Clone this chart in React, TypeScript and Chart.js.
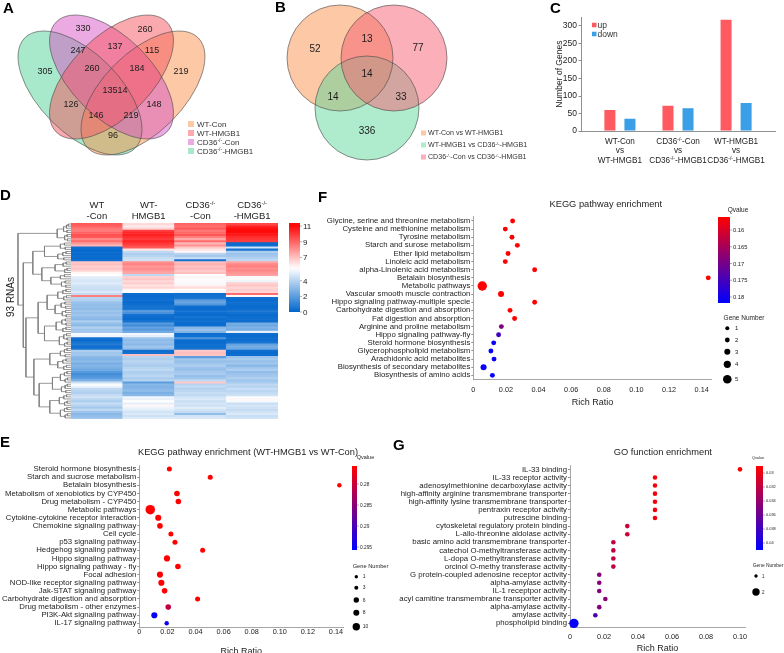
import React, { useEffect, useRef } from 'react';
import { Chart, registerables } from 'chart.js';

Chart.register(...registerables);

const FAM = '"Liberation Sans", Arial, Helvetica, sans-serif';
Chart.defaults.font.family = FAM;
const INK = '#1c1c1c';
Chart.defaults.color = INK;
const AXIS = '#8f8f8f';
const fnt = (s: number, w = 'normal') => `${w} ${s}px ${FAM}`;
const SUP = '\u207B/\u207B';
const KO = 'CD36' + SUP;

// ================= DATA =================
// A: four-set Venn
const vennASets = ['WT-Con', 'WT-HMGB1', `${KO}-Con`, `${KO}-HMGB1`];
const vennACounts = [305, 330, 260, 219, 247, 137, 115, 260, 184, 13514, 126, 148, 146, 219, 96];

// B: three-set Venn
const vennBSets = ['WT-Con vs WT-HMGB1', `WT-HMGB1 vs ${KO}-HMGB1`, `${KO}-Con vs ${KO}-HMGB1`];
const vennBCounts = [52, 13, 77, 14, 14, 33, 336];

// C: up / down genes
const cComparisons = [
  ['WT-Con', 'vs', 'WT-HMGB1'],
  [`${KO}-Con`, 'vs', `${KO}-HMGB1`],
  ['WT-HMGB1', 'vs', `${KO}-HMGB1`],
];
const cSeriesNames = ['up', 'down'];
const cUp = [60, 72, 318];
const cDown = [35, 65, 80];
const cYTicks = [0, 50, 100, 150, 200, 250, 300];

// D: heatmap (93 RNAs x 4 samples)
const dSamples = [['WT', '-Con'], ['WT-', 'HMGB1'], [KO, '-Con'], [KO, '-HMGB1']];
const dWtCon = [
  9.2, 9.0, 8.6, 8.4, 9.0, 9.4, 9.3, 8.2, 8.8, 7.8, 7.2,
  0.3, 0.2, 0.1, 0.2, 0.3, 0.2, 0.4,
  6.8, 7.0, 6.6, 6.9, 6.5,
  5.8, 5.6,
  5.0, 4.8, 4.7, 4.9, 4.6, 4.5,
  4.4, 4.8,
  4.3, 8.4,
  4.0, 3.9, 3.4, 3.2, 3.3, 3.1, 3.4, 3.3, 3.5, 3.2, 3.0, 3.8, 3.3, 3.1, 3.9, 3.4, 3.6,
  5.4, 5.2,
  0.4, 0.2, 0.5, 0.8, 0.3, 0.6,
  3.8, 3.5,
  3.6,
  3.0, 2.8, 3.1, 2.6, 2.9, 2.7, 2.4,
  1.9, 1.5, 1.7, 2.0,
  2.8,
  4.5,
  5.5, 5.2,
  4.2, 4.0, 3.9, 4.3,
  4.6, 4.1, 3.8, 4.4, 4.0, 3.6, 4.2,
  3.4, 3.0, 3.2, 3.5,
];
const dWtHmgb1 = [
  6.4, 6.0, 6.6,
  9.8, 10.3, 10.5, 10.2, 9.9, 10.4, 10.0, 9.6, 9.2,
  6.2,
  4.2, 3.8, 4.0, 4.4, 4.6,
  8.0, 8.3, 7.8, 8.1, 7.9, 7.6,
  4.2,
  6.6, 6.9, 6.4, 6.7, 6.2, 6.5,
  5.8, 5.6,
  0.3, 0.2, 0.3, 0.4, 0.2, 0.3, 0.5, 0.4, 1.8, 1.6, 0.4, 0.3, 0.2, 0.5, 1.9, 1.4, 2.2, 1.8, 2.5,
  5.3, 5.0,
  3.4, 3.1, 3.3, 3.0, 3.5, 3.2,
  0.3, 0.4,
  7.0,
  4.0, 3.8, 4.1, 3.9, 3.7, 4.0, 4.2, 3.8, 3.9, 4.1, 3.7, 4.0,
  2.0,
  3.0, 2.8, 2.9, 3.1, 2.7, 3.0,
  5.3, 5.1, 5.6, 5.0, 5.8, 5.2, 4.9,
  4.6, 4.8, 4.5, 4.9,
];
const dCdCon = [
  9.0, 8.7, 9.2, 8.5, 8.9, 9.3, 8.4, 7.5, 8.8, 7.2, 8.0,
  6.8, 6.2, 5.8,
  4.0, 3.6, 4.3,
  0.4,
  7.0, 7.3, 6.9, 7.2, 6.8, 7.0,
  5.6, 5.8, 5.5, 5.7, 5.4, 5.9,
  6.4,
  5.6, 5.3,
  0.3, 0.4, 0.5,
  2.0, 2.3, 1.8,
  0.3, 0.2, 0.4, 0.3, 0.2, 0.5, 0.3, 0.4, 0.2, 0.3,
  3.0, 3.3, 2.8,
  0.3, 0.4, 1.8, 0.3, 0.2, 0.4, 0.3, 0.5,
  6.8, 7.0, 6.9,
  2.0,
  3.6, 3.3, 3.5, 3.8, 3.4, 3.2, 3.6, 3.7, 3.3, 3.5,
  4.2,
  6.8,
  4.0, 4.3, 3.9, 4.1, 4.4, 4.2,
  4.6, 4.8, 4.4, 4.7, 4.5, 4.9, 4.6, 4.3,
  3.2,
  4.6, 4.8,
];
const dCdHmgb1 = [
  9.6, 10.4, 10.8, 11.0, 10.9, 10.6, 10.2, 10.0, 9.8,
  0.2, 0.3,
  4.6,
  0.5,
  3.8, 3.4, 3.6, 3.9, 4.2,
  7.6, 8.2, 8.4, 8.0, 8.3, 7.9, 7.7,
  5.4, 5.7, 5.2,
  6.6, 6.9, 6.5,
  6.7, 6.5,
  8.8,
  5.8,
  0.3, 0.2, 0.4, 0.3, 0.2, 0.3, 0.5, 0.4, 0.2, 0.3, 0.4, 0.3,
  2.6, 2.4, 2.8, 2.5,
  5.0,
  0.3, 0.2, 0.4, 0.3, 0.5,
  2.2, 2.6, 2.4,
  0.3, 0.2, 0.3,
  3.4, 3.7, 3.3, 3.6, 3.0, 3.5, 3.8, 3.2, 3.4, 3.6, 3.9, 3.5, 3.7,
  4.2, 4.0, 4.4, 4.1, 4.3, 4.5,
  5.5, 5.8, 5.4,
  4.4, 4.7, 4.5, 4.3, 4.6, 4.8, 4.4, 4.6,
];
const dScaleTicks = [11, 9, 7, 4, 2, 0];
const dRowsLabel = '93 RNAs';
// dendrogram: [height, left, right] or [height, leafCount]
const dTree = [1.0,
  [0.26, [0.14, 5], [0.12, 4]],
  [0.9,
    [0.72,
      [0.5, [0.2, 4], [0.25, 5]],
      [0.55, [0.3, [0.15, 3], [0.12, 3]], [0.38, [0.2, 3], [0.18, 4]]],
    ],
    [0.85,
      [0.62, [0.45, [0.25, 6], [0.3, 8]], [0.5, [0.28, 7], [0.22, 7]]],
      [0.7, [0.4, [0.2, 5], [0.25, 6]], [0.6, [0.35, [0.2, 6], [0.18, 5]], [0.4, [0.22, 6], [0.2, 6]]]],
    ],
  ],
];

// E: KEGG (WT-HMGB1 vs WT-Con)
const eTerms = ['Steroid hormone biosynthesis', 'Starch and sucrose metabolism', 'Betalain biosynthesis',
  'Metabolism of xenobiotics by CYP450', 'Drug metabolism - CYP450', 'Metabolic pathways',
  'Cytokine-cytokine receptor interaction', 'Chemokine signaling pathway', 'Cell cycle', 'p53 signaling pathway',
  'Hedgehog signaling pathway', 'Hippo signaling pathway', 'Hippo signaling pathway - fly', 'Focal adhesion',
  'NOD-like receptor signaling pathway', 'Jak-STAT signaling pathway', 'Carbohydrate digestion and absorption',
  'Drug metabolism - other enzymes', 'PI3K-Akt signaling pathway', 'IL-17 signaling pathway'];
const eRichRatio = [0.0214, 0.0505, 0.1424, 0.0268, 0.0278, 0.0078, 0.0135, 0.0147, 0.0225, 0.0254,
  0.0451, 0.0197, 0.0275, 0.0147, 0.0157, 0.018, 0.0415, 0.0206, 0.0107, 0.0195];
const eQvalue = [0.2757, 0.2757, 0.2757, 0.2757, 0.2757, 0.2757, 0.2757, 0.2757, 0.2757, 0.2757,
  0.2757, 0.2757, 0.2757, 0.2757, 0.2757, 0.2757, 0.2757, 0.2805, 0.2950, 0.2945];
const eGeneNumber = [2, 2, 1, 3, 3, 10, 4, 3, 2, 2, 2, 4, 3, 4, 4, 3, 2, 3, 4, 1];
const eQTicks = [0.28, 0.285, 0.29, 0.295];
const eGeneLegend = [1, 3, 6, 8, 10];

// F: KEGG pathway enrichment
const fTerms = ['Glycine, serine and threonine metabolism', 'Cysteine and methionine metabolism', 'Tyrosine metabolism',
  'Starch and surose metabolism', 'Ether lipid metabolism', 'Linoleic acid metabolism', 'alpha-Linolenic acid metabolism',
  'Betalain biosynthesis', 'Metabolic pathways', 'Vascular smooth muscle contraction', 'Hippo signaling pathway-multiple specie',
  'Carbohydrate digestion and absorption', 'Fat digestion and absorption', 'Arginine and proline metabolism',
  'Hippo signaling pathway-fly', 'Steroid hormone biosynthesis', 'Glycerophospholipid metabolism',
  'Arachidonic acid metabolites', 'Biosynthesis of secondary metabolites', 'Biosynthesis of amino acids'];
const fRichRatio = [0.0241, 0.0196, 0.0237, 0.027, 0.0213, 0.0196, 0.0376, 0.144, 0.0055, 0.017,
  0.0376, 0.0225, 0.0253, 0.0172, 0.0155, 0.0125, 0.0108, 0.0127, 0.0063, 0.0117];
const fQvalue = [0.1562, 0.1562, 0.1562, 0.1562, 0.1562, 0.1562, 0.1562, 0.1562, 0.1562, 0.1562,
  0.1562, 0.1562, 0.1562, 0.169, 0.1755, 0.181, 0.181, 0.181, 0.181, 0.181];
const fGeneNumber = [1, 1, 1, 1, 1, 1, 1, 1, 5, 2, 1, 1, 1, 1, 1, 1, 1, 1, 2, 1];
const fQTicks = [0.16, 0.165, 0.17, 0.175, 0.18];
const fGeneLegend = [1, 2, 3, 4, 5];

// G: GO function enrichment
const gTerms = ['IL-33 binding', 'IL-33 receptor activity', 'adenosylmethionine decarboxylase activity',
  'high-affinity arginine transmembrane transporter', 'high-affinity lysine transmembrane transporter',
  'pentraxin receptor activity', 'putrescine binding', 'cytoskeletal regulatory protein binding',
  'L-allo-threonine aldolase activity', 'basic amino acid transmembrane transporter',
  'catechol O-methyltransferase activity', 'L-dopa O-methyltransferase activity', 'orcinol O-methy transferase activity',
  'G protein-coupled adenosine receptor activity', 'alpha-amylase activity', 'IL-1 receptpor activity',
  'acyl camitine transmembrane transporter activity', 'alpha-amylase activity', 'amylase activity', 'phospholipid binding'];
const gRichRatio = [0.1, 0.05, 0.05, 0.05, 0.05, 0.05, 0.05, 0.0337, 0.0337, 0.0255, 0.0255, 0.0255, 0.0255,
  0.0172, 0.0172, 0.0172, 0.0208, 0.0172, 0.0149, 0.0023];
const gQvalue = [0.0292, 0.0295, 0.0295, 0.0295, 0.0295, 0.0295, 0.0295, 0.0313, 0.0313, 0.0318, 0.0318, 0.0318, 0.0318,
  0.0347, 0.0347, 0.0347, 0.0345, 0.0347, 0.0375, 0.0408];
const gGeneNumber = [1, 1, 1, 1, 1, 1, 1, 1, 1, 1, 1, 1, 1, 1, 1, 1, 1, 1, 1, 2];
const gQTicks = [0.03, 0.032, 0.034, 0.036, 0.038, 0.04];
const gGeneLegend = [1, 2];

// ================= STYLE / LAYOUT =================
type Box = { left: number; top: number; w: number; h: number };
const mix = (a: number[], b: number[], t: number) => a.map((v, i) => Math.round(v + (b[i] - v) * t));
const rgb = (c: number[]) => `rgb(${c[0]},${c[1]},${c[2]})`;
const HEAT_LOW = [0, 102, 204];
const HEAT_WHITE = [255, 255, 255];
const HEAT_HIGH = [255, 8, 8];
function heatColor(v: number) {
  const mid = 5.6, hi = 11;
  if (v <= mid) return rgb(mix(HEAT_LOW, HEAT_WHITE, Math.max(0, v) / mid));
  return rgb(mix(HEAT_WHITE, HEAT_HIGH, Math.min(1, (v - mid) / (hi - mid))));
}
function qColor(q: number, top: number, bot: number) {
  const t = Math.max(0, Math.min(1, (q - top) / (bot - top)));
  return `rgb(${Math.round(255 * (1 - t))},0,${Math.round(255 * t)})`;
}

// text with small raised "-/-" for the knockout superscript; (x, y) = anchor, y is the vertical middle
function drawRich(ctx: CanvasRenderingContext2D, s: string, x: number, y: number, size: number, align: string, color: string) {
  const parts = s.split(SUP);
  const segs: any[] = [];
  parts.forEach((p, i) => {
    if (p) segs.push({ t: p, sup: false });
    if (i < parts.length - 1) segs.push({ t: '-/-', sup: true });
  });
  const supSize = size * 0.62;
  let total = 0;
  for (const sg of segs) {
    ctx.font = fnt(sg.sup ? supSize : size);
    sg.w = ctx.measureText(sg.t).width;
    total += sg.w;
  }
  let cx = align === 'center' ? x - total / 2 : align === 'right' ? x - total : x;
  const base = y + size * 0.35;
  ctx.fillStyle = color;
  ctx.textAlign = 'left';
  ctx.textBaseline = 'alphabetic';
  for (const sg of segs) {
    ctx.font = fnt(sg.sup ? supSize : size);
    ctx.fillText(sg.t, cx, sg.sup ? base - size * 0.36 : base);
    cx += sg.w;
  }
}

function drawAnnos(ctx: CanvasRenderingContext2D, items: any[]) {
  for (const it of items) {
    ctx.save();
    if (it.k === 't') {
      ctx.translate(it.x, it.y);
      if (it.rot) ctx.rotate(it.rot);
      drawRich(ctx, it.s, 0, 0, it.size, it.align || 'left', it.color || INK);
    } else if (it.k === 'r') {
      ctx.fillStyle = it.color;
      ctx.fillRect(it.x, it.y, it.w, it.h);
    } else if (it.k === 'c') {
      ctx.fillStyle = it.color;
      ctx.beginPath();
      ctx.arc(it.x, it.y, it.r, 0, Math.PI * 2);
      ctx.fill();
    } else if (it.k === 'g') {
      const g = ctx.createLinearGradient(0, it.y, 0, it.y + it.h);
      for (const [o, c] of it.stops) g.addColorStop(o, c);
      ctx.fillStyle = g;
      ctx.fillRect(it.x, it.y, it.w, it.h);
    } else if (it.k === 'l') {
      ctx.strokeStyle = it.color;
      ctx.lineWidth = it.w;
      ctx.beginPath();
      ctx.moveTo(it.x1, it.y1);
      ctx.lineTo(it.x2, it.y2);
      ctx.stroke();
    }
    ctx.restore();
  }
}
// annotation items are given in page coordinates
const annoPlugin = (items: any[], box: Box) => ({
  id: 'anno',
  afterDraw(chart: any) {
    const ctx = chart.ctx;
    ctx.save();
    ctx.translate(-box.left, -box.top);
    drawAnnos(ctx, items);
    ctx.restore();
  },
});
// multi-line category labels placed at the x scale's tick pixels (page y for each line)
const xLabelPlugin = (labels: string[][], values: number[], lineYs: number[], size: number, box: Box) => ({
  id: 'xlabels',
  afterDraw(chart: any) {
    const ctx = chart.ctx;
    const sc = chart.scales.x;
    ctx.save();
    labels.forEach((lines, i) => {
      const px = sc.getPixelForValue(values[i]);
      lines.forEach((ln, j) => drawRich(ctx, ln, px, lineYs[j] - box.top, size, 'center', INK));
    });
    ctx.restore();
  },
});

function colorbar(o: any): any[] {
  const stops: any[] = [];
  for (let i = 0; i <= 30; i++) {
    const f = i / 30;
    stops.push([f, o.color(o.vTop + (o.vBot - o.vTop) * f)]);
  }
  const items: any[] = [{ k: 'g', x: o.x, y: o.y, w: o.w, h: o.h, stops }];
  for (const v of o.ticks) {
    const yy = o.y + ((v - o.vTop) / (o.vBot - o.vTop)) * o.h;
    items.push({ k: 'l', x1: o.x + o.w, y1: yy, x2: o.x + o.w + 2, y2: yy, color: '#777', w: 0.6 });
    items.push({ k: 't', x: o.x + o.w + 3, y: yy, s: o.fmt(v), size: o.size });
  }
  return items;
}
const qfmt = (v: number) => String(+v.toFixed(3));

// ---------- Venn ----------
const A_BOX: Box = { left: 0, top: 0, w: 262, h: 170 };
const A_SHAPES = [
  { cx: 80, cy: 93, rx: 78, ry: 40, rot: 45, fill: 'rgba(81,209,151,0.5)' },
  { cx: 143, cy: 93, rx: 78, ry: 40, rot: -45, fill: 'rgba(249,145,75,0.5)' },
  { cx: 111.5, cy: 77, rx: 78, ry: 40, rot: 45, fill: 'rgba(215,85,195,0.5)' },
  { cx: 111.5, cy: 77, rx: 78, ry: 40, rot: -45, fill: 'rgba(245,85,95,0.5)' },
];
const A_LABEL_POS = [[45, 72], [83, 29], [145, 30], [181, 72], [78, 51], [115, 47], [152, 51], [92, 69], [137, 69],
  [115, 91], [71, 105], [154, 105], [96, 116], [131, 116], [113, 136]];
const A_LEGEND_COLORS = ['rgb(252,200,165)', 'rgb(250,170,175)', 'rgb(235,170,225)', 'rgb(168,232,203)'];
const A_LEGEND_Y = [124, 133, 142, 151];

const B_BOX: Box = { left: 262, top: 0, w: 285, h: 170 };
const B_SHAPES = [
  { cx: 340, cy: 58, rx: 53, ry: 53, rot: 0, fill: 'rgba(249,145,75,0.5)' },
  { cx: 367, cy: 108, rx: 52, ry: 52, rot: 0, fill: 'rgba(95,215,155,0.5)' },
  { cx: 394, cy: 58, rx: 53, ry: 53, rot: 0, fill: 'rgba(245,95,115,0.5)' },
];
const B_LABEL_POS = [[315, 49], [367, 39], [418, 48], [367, 74], [333, 97], [401, 97], [367, 131]];
const B_LEGEND_COLORS = ['rgb(252,200,165)', 'rgb(175,235,205)', 'rgb(250,175,185)'];
const B_LEGEND_Y = [133, 145, 157];

function vennConfig(box: Box, shapes: any[], labelPos: number[][], counts: number[], numSize: number, annos: any[]) {
  const shapePlugin = {
    id: 'vennShapes',
    beforeDatasetsDraw(chart: any) {
      const { ctx } = chart;
      const sx = chart.scales.x, sy = chart.scales.y;
      const px = (v: number) => sx.getPixelForValue(v);
      const py = (v: number) => sy.getPixelForValue(v);
      const kx = Math.abs(px(1) - px(0)), ky = Math.abs(py(1) - py(0));
      const path = (s: any) => {
        ctx.beginPath();
        ctx.ellipse(px(s.cx), py(s.cy), s.rx * kx, s.ry * ky, (s.rot * Math.PI) / 180, 0, Math.PI * 2);
      };
      ctx.save();
      for (const s of shapes) { path(s); ctx.fillStyle = s.fill; ctx.fill(); }
      for (const s of shapes) { path(s); ctx.strokeStyle = 'rgba(70,70,70,0.85)'; ctx.lineWidth = 0.7; ctx.stroke(); }
      ctx.restore();
    },
    afterDatasetsDraw(chart: any) {
      const meta = chart.getDatasetMeta(0);
      const ctx = chart.ctx;
      ctx.save();
      ctx.font = fnt(numSize);
      ctx.fillStyle = INK;
      ctx.textAlign = 'center';
      ctx.textBaseline = 'middle';
      meta.data.forEach((pt: any, i: number) => ctx.fillText(String(counts[i]), pt.x, pt.y));
      ctx.restore();
    },
  };
  return {
    type: 'scatter',
    data: { datasets: [{ data: labelPos.map(([x, y]) => ({ x, y })), pointRadius: 0, pointHoverRadius: 0 }] },
    options: {
      responsive: false, maintainAspectRatio: false, animation: false, events: [],
      layout: { padding: 0 },
      plugins: { legend: { display: false }, tooltip: { enabled: false } },
      scales: {
        x: { type: 'linear', min: box.left, max: box.left + box.w, display: false },
        y: { type: 'linear', min: box.top, max: box.top + box.h, reverse: true, display: false },
      },
    },
    plugins: [shapePlugin, annoPlugin(annos, box)],
  };
}

function legendItems(names: string[], colors: string[], ys: number[], bx: number, bs: number, tx: number, size: number) {
  const out: any[] = [];
  names.forEach((n, i) => {
    out.push({ k: 'r', x: bx, y: ys[i] - bs / 2, w: bs, h: bs, color: colors[i] });
    out.push({ k: 't', x: tx, y: ys[i], s: n, size, color: '#333' });
  });
  return out;
}

const makeA = () => vennConfig(A_BOX, A_SHAPES, A_LABEL_POS, vennACounts, 9,
  legendItems(vennASets, A_LEGEND_COLORS, A_LEGEND_Y, 188, 6, 197, 8));
const makeB = () => vennConfig(B_BOX, B_SHAPES, B_LABEL_POS, vennBCounts, 10,
  legendItems(vennBSets, B_LEGEND_COLORS, B_LEGEND_Y, 421, 5, 428, 7.1));

// ---------- C ----------
const C_BOX: Box = { left: 540, top: 0, w: 244, h: 172 };
const C_AREA = { l: 581, t: 17.25, r: 775, b: 131 };
const C_COLORS = ['#FF5A5F', '#3A9FE6'];
const makeC = () => ({
  type: 'bar',
  data: {
    datasets: [cUp, cDown].map((vals, k) => ({
      label: cSeriesNames[k],
      data: vals.map((v, i) => ({ x: i + 1, y: v })),
      backgroundColor: C_COLORS[k],
      borderWidth: 0,
      categoryPercentage: 0.69,
      barPercentage: 0.55,
    })),
  },
  options: {
    responsive: false, maintainAspectRatio: false, animation: false, events: [],
    layout: { padding: { left: 0, right: C_BOX.left + C_BOX.w - C_AREA.r, top: C_AREA.t - C_BOX.top, bottom: 0 } },
    plugins: { legend: { display: false }, tooltip: { enabled: false } },
    scales: {
      x: {
        type: 'linear', min: 0.33, max: 3.67, offset: false,
        afterBuildTicks: (s: any) => { s.ticks = cComparisons.map((_, i) => ({ value: i + 1 })); },
        ticks: { display: false },
        grid: { display: false, drawTicks: false, tickLength: 0 },
        border: { display: true, color: AXIS },
        afterFit: (s: any) => { s.height = C_BOX.top + C_BOX.h - C_AREA.b; },
      },
      y: {
        type: 'linear', min: 0, max: 325,
        afterBuildTicks: (s: any) => { s.ticks = cYTicks.map((v) => ({ value: v })); },
        ticks: { font: { size: 8.5 }, color: INK, padding: 1.5 },
        grid: { display: true, drawOnChartArea: false, drawTicks: true, tickLength: 2.5, color: AXIS },
        border: { display: true, color: AXIS },
        title: { display: true, text: 'Number of Genes', font: { size: 8.5 }, color: INK, padding: { top: 15, bottom: 0 } },
        afterFit: (s: any) => { s.width = C_AREA.l - C_BOX.left; },
      },
    },
  },
  plugins: [
    xLabelPlugin(cComparisons, [1, 2, 3], [141, 150.5, 160], 8.2, C_BOX),
    annoPlugin(legendItems(cSeriesNames, C_COLORS, [25, 34], 592, 4.5, 597.5, 8.5), C_BOX),
  ],
});

// ---------- D ----------
const D_HEAT_BOX: Box = { left: 60, top: 195, w: 270, h: 228 };
const D_HEAT_AREA = { l: 71, t: 223, r: 278, b: 419 };
const D_DENDRO_BOX: Box = { left: 0, top: 188, w: 72, h: 236 };
const D_DENDRO_AREA = { l: 14, t: 223, r: 71, b: 419 };
const dColumns = [dWtCon, dWtHmgb1, dCdCon, dCdHmgb1];
const makeHeat = () => ({
  type: 'bar',
  data: {
    labels: dSamples.map((s) => s.join(' ')),
    datasets: dWtCon.map((_, r) => ({
      data: dColumns.map(() => 1),
      backgroundColor: dColumns.map((col) => heatColor(col[r])),
      borderWidth: 0,
      categoryPercentage: 1,
      barPercentage: 1,
    })),
  },
  options: {
    responsive: false, maintainAspectRatio: false, animation: false, events: [],
    layout: { padding: { left: D_HEAT_AREA.l - D_HEAT_BOX.left, right: D_HEAT_BOX.left + D_HEAT_BOX.w - D_HEAT_AREA.r, top: 0, bottom: D_HEAT_BOX.top + D_HEAT_BOX.h - D_HEAT_AREA.b } },
    plugins: { legend: { display: false }, tooltip: { enabled: false }, colors: { enabled: false } },
    scales: {
      x: {
        stacked: true, position: 'top', offset: true,
        grid: { display: false, drawTicks: false, tickLength: 0 }, border: { display: false },
        ticks: { display: false },
        afterFit: (s: any) => { s.height = D_HEAT_AREA.t - D_HEAT_BOX.top; },
      },
      y: { stacked: true, min: 0, max: dWtCon.length, reverse: true, display: false },
    },
  },
  plugins: [
    xLabelPlugin(dSamples, [0, 1, 2, 3], [205, 216], 9.5, D_HEAT_BOX),
    annoPlugin(colorbar({
      x: 289, y: 223, w: 11, h: 89, vTop: 11.4, vBot: 0, ticks: dScaleTicks,
      fmt: (v: number) => String(v), color: heatColor, size: 8,
    }), D_HEAT_BOX),
  ],
});

function dendroPoints(spec: any) {
  const pts: { x: number; y: number }[] = [];
  let leaf = 0;
  const expand = (h: number, n: number): any => {
    if (n <= 1) return 'L';
    const a = Math.ceil(n / 2), b = n - a;
    return [h, expand(h * 0.62, a), expand(h * 0.55, b)];
  };
  const walk = (node: any): [number, number] => {
    if (node === 'L') { const y = leaf + 0.5; leaf++; return [0, y]; }
    if (node.length === 2) return walk(expand(node[0], node[1]));
    const [h, a, b] = node;
    const [ha, ya] = walk(a);
    const [hb, yb] = walk(b);
    pts.push({ x: ha, y: ya }, { x: h, y: ya }, { x: h, y: yb }, { x: hb, y: yb }, { x: NaN, y: NaN });
    return [h, (ya + yb) / 2];
  };
  walk(spec);
  return pts;
}
const makeDendro = () => ({
  type: 'scatter',
  data: { datasets: [{ data: dendroPoints(dTree), showLine: true, spanGaps: false, borderColor: '#7d7d7d', borderWidth: 0.8, pointRadius: 0, pointHoverRadius: 0, tension: 0 }] },
  options: {
    responsive: false, maintainAspectRatio: false, animation: false, events: [],
    layout: { padding: { left: D_DENDRO_AREA.l - D_DENDRO_BOX.left, right: D_DENDRO_BOX.left + D_DENDRO_BOX.w - D_DENDRO_AREA.r, top: D_DENDRO_AREA.t - D_DENDRO_BOX.top, bottom: D_DENDRO_BOX.top + D_DENDRO_BOX.h - D_DENDRO_AREA.b } },
    plugins: { legend: { display: false }, tooltip: { enabled: false } },
    scales: {
      x: { type: 'linear', min: 0, max: 1.075, reverse: true, display: false },
      y: { type: 'linear', min: 0, max: dWtCon.length, reverse: true, display: false },
    },
  },
  plugins: [annoPlugin([{ k: 't', x: 10, y: 297, s: dRowsLabel, size: 10, align: 'center', rot: -Math.PI / 2 }], D_DENDRO_BOX)],
});

// ---------- E / F / G ----------
function bubbleConfig(p: any) {
  return {
    type: 'bubble',
    data: {
      labels: p.terms,
      datasets: [{
        data: p.rich.map((v: number, i: number) => ({ x: v, y: i, r: p.radius(p.gene[i]) })),
        backgroundColor: p.q.map((q: number) => qColor(q, p.qTop, p.qBot)),
        borderWidth: 0, clip: false, hoverRadius: 0,
      }],
    },
    options: {
      responsive: false, maintainAspectRatio: false, animation: false, events: [],
      layout: { padding: { left: 0, top: p.area.t - p.box.top, right: p.box.left + p.box.w - p.area.r, bottom: 0 } },
      plugins: { legend: { display: false }, tooltip: { enabled: false } },
      scales: {
        x: {
          type: 'linear', min: 0, max: p.xMax, offset: false,
          ticks: { stepSize: 0.02, includeBounds: false, callback: (v: any) => (Math.abs(v) < 1e-9 ? '0' : Number(v).toFixed(2)), font: { size: 7.3 }, color: INK, padding: p.xPad, maxRotation: 0 },
          grid: { display: false, drawTicks: false, tickLength: 0 },
          border: { display: true, color: AXIS, width: 0.8 },
          title: { display: true, text: 'Rich Ratio', font: { size: 9 }, color: INK, padding: { top: 0, bottom: p.titlePad } },
          afterFit: (s: any) => { s.height = p.box.top + p.box.h - p.area.b; },
        },
        y: {
          type: 'category', labels: p.terms, offset: true,
          ticks: { font: { size: 7.8 }, color: INK, padding: 1, autoSkip: false },
          grid: { display: true, drawOnChartArea: false, drawTicks: true, tickLength: 2, color: AXIS },
          border: { display: true, color: AXIS, width: 0.8 },
          afterFit: (s: any) => { s.width = p.area.l - p.box.left; },
        },
      },
    },
    plugins: [annoPlugin(p.annos, p.box)],
  };
}
function geneLegend(title: string, tx: number, ty: number, tsize: number, x: number, ys: number[], rs: number[], labels: number[], lx: number, lsize: number) {
  const out: any[] = [{ k: 't', x: tx, y: ty, s: title, size: tsize, align: 'center' }];
  labels.forEach((g, i) => {
    out.push({ k: 'c', x, y: ys[i], r: rs[i], color: '#000' });
    out.push({ k: 't', x: lx, y: ys[i], s: String(g), size: lsize });
  });
  return out;
}

const E_BOX: Box = { left: 0, top: 440, w: 390, h: 225 };
const E_Q = { top: 0.2757, bot: 0.2957 };
const makeE = () => bubbleConfig({
  box: E_BOX, area: { l: 139.3, t: 465, r: 343, b: 627.4 }, xMax: 0.145, xPad: 0, titlePad: 7.6,
  terms: eTerms, rich: eRichRatio, q: eQvalue, gene: eGeneNumber, qTop: E_Q.top, qBot: E_Q.bot,
  radius: (g: number) => 1.95 + 0.28 * g,
  annos: [
    { k: 't', x: 248, y: 451.7, s: 'KEGG pathway enrichment (WT-HMGB1 vs WT-Con)', size: 9.3, align: 'center' },
    { k: 't', x: 365.5, y: 457.5, s: 'Qvalue', size: 5.5, align: 'center' },
    ...colorbar({ x: 352, y: 466, w: 5, h: 84, vTop: E_Q.top, vBot: E_Q.bot, ticks: eQTicks, fmt: qfmt, color: (q: number) => qColor(q, E_Q.top, E_Q.bot), size: 4.8 }),
    ...geneLegend('Gene Number', 370.5, 565.7, 5.7, 356.3, [576.7, 587.7, 600, 612.7, 626.7], [1.7, 2.0, 2.7, 3.0, 3.7], eGeneLegend, 362.7, 5),
  ],
});

const F_BOX: Box = { left: 300, top: 195, w: 484, h: 218 };
const F_Q = { top: 0.1561, bot: 0.1818 };
const makeF = () => bubbleConfig({
  box: F_BOX, area: { l: 473.3, t: 216.9, r: 711.5, b: 379.4 }, xMax: 0.146, xPad: 6.2, titlePad: 4.6,
  terms: fTerms, rich: fRichRatio, q: fQvalue, gene: fGeneNumber, qTop: F_Q.top, qBot: F_Q.bot,
  radius: (g: number) => 1.9 + 0.56 * g,
  annos: [
    { k: 't', x: 605.8, y: 204, s: 'KEGG pathway enrichment', size: 9.3, align: 'center' },
    { k: 't', x: 738, y: 209.3, s: 'Qvalue', size: 6.5, align: 'center' },
    ...colorbar({ x: 718, y: 217, w: 12, h: 86, vTop: F_Q.top, vBot: F_Q.bot, ticks: fQTicks, fmt: qfmt, color: (q: number) => qColor(q, F_Q.top, F_Q.bot), size: 5.8 }),
    ...geneLegend('Gene Number', 744, 317.7, 6.5, 727.3, [328.3, 340, 351.7, 364.3, 379.3], [2, 2.4, 3, 3.6, 4.3], fGeneLegend, 735, 6),
  ],
});

const G_BOX: Box = { left: 390, top: 440, w: 394, h: 225 };
const G_Q = { top: 0.029, bot: 0.041 };
const makeG = () => bubbleConfig({
  box: G_BOX, area: { l: 570, t: 465.3, r: 745.1, b: 627.4 }, xMax: 0.103, xPad: 4.9, titlePad: 11.3,
  terms: gTerms, rich: gRichRatio, q: gQvalue, gene: gGeneNumber, qTop: G_Q.top, qBot: G_Q.bot,
  radius: (g: number) => -0.1 + 2.4 * g,
  annos: [
    { k: 't', x: 662.8, y: 451.7, s: 'GO function enrichment', size: 9.3, align: 'center' },
    { k: 't', x: 758, y: 457.3, s: 'Qvalue', size: 3.8, align: 'center' },
    ...colorbar({ x: 756, y: 466, w: 7, h: 84, vTop: G_Q.top, vBot: G_Q.bot, ticks: gQTicks, fmt: qfmt, color: (q: number) => qColor(q, G_Q.top, G_Q.bot), size: 3.9 }),
    ...geneLegend('Gene Number', 768, 565.7, 4.9, 756, [576, 592], [1.7, 3.7], gGeneLegend, 762, 4.5),
  ],
});

// ---------- panel letters ----------
const LETTERS = [
  { s: 'A', x: 3, base: 12.7 }, { s: 'B', x: 275, base: 12 }, { s: 'C', x: 550, base: 13 },
  { s: 'D', x: 0, base: 199.5 }, { s: 'E', x: 0, base: 447 }, { s: 'F', x: 318, base: 202 }, { s: 'G', x: 393, base: 450 },
];

function ChartBox({ box, make }: { box: Box; make: () => any }) {
  const ref = useRef<HTMLCanvasElement>(null);
  useEffect(() => {
    const chart = new Chart(ref.current as HTMLCanvasElement, make());
    return () => chart.destroy();
  }, []);
  return (
    <canvas ref={ref} width={box.w} height={box.h}
      style={{ position: 'absolute', left: box.left, top: box.top, width: box.w, height: box.h }} />
  );
}

export default function App() {
  return (
    <div style={{ position: 'absolute', left: 0, top: 0, width: 784, height: 653, overflow: 'hidden', background: '#fff' }}>
      <ChartBox box={A_BOX} make={makeA} />
      <ChartBox box={B_BOX} make={makeB} />
      <ChartBox box={C_BOX} make={makeC} />
      <ChartBox box={D_DENDRO_BOX} make={makeDendro} />
      <ChartBox box={D_HEAT_BOX} make={makeHeat} />
      <ChartBox box={F_BOX} make={makeF} />
      <ChartBox box={E_BOX} make={makeE} />
      <ChartBox box={G_BOX} make={makeG} />
      {LETTERS.map((l) => (
        <div key={l.s} style={{ position: 'absolute', left: l.x, top: l.base - 12.7, font: `bold 15px/15px ${FAM}`, color: '#000' }}>{l.s}</div>
      ))}
    </div>
  );
}
